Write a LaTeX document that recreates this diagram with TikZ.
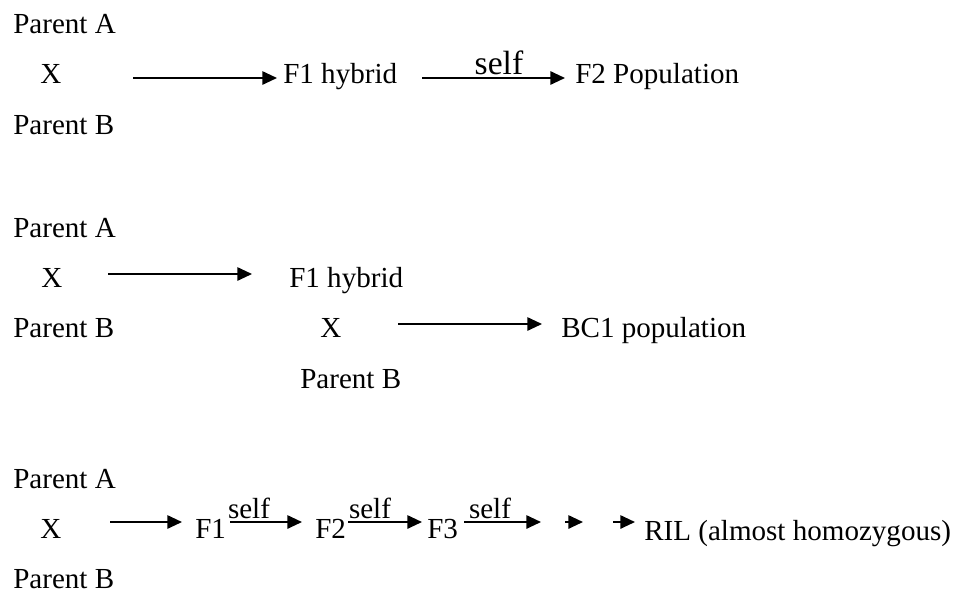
\documentclass[tikz,border=0pt]{standalone}
\usepackage{fontspec}
\setmainfont{Liberation Serif}
\usetikzlibrary{arrows.meta}
\begin{document}
\begin{tikzpicture}[x=0.75pt,y=-0.75pt,
  lbl/.style={anchor=base west,inner sep=0pt,font=\fontsize{21.8}{26}\selectfont},
  bigself/.style={anchor=base,inner sep=0pt,font=\fontsize{25.2}{30}\selectfont},
  smlself/.style={anchor=base,inner sep=0pt,font=\fontsize{21.8}{26}\selectfont},
  arr/.style={line width=1.4pt,-{Triangle[length=11pt,width=10pt]}}]
\useasboundingbox (0,0) rectangle (960,593);

% ---------- block 1: F2 ----------
\node[lbl] (pa1) at (13,33) {Parent A};
\node[lbl] (x1) at (40,83) {X};
\node[lbl] (f1a) at (283,83) {F1 hybrid};
\node[lbl] (f2pop) at (575,83) {F2 Population};
\node[lbl] (pb1) at (13,134) {Parent B};
\coordinate (a1s) at (133,78); \coordinate (a1e) at (277,78);
\coordinate (a2s) at (422,78); \coordinate (a2e) at (565,78);
\draw[arr] (a1s) -- (a1e);
\draw[arr] (a2s) -- (a2e);
\node[bigself] (s1) at (499,74) {self};

% ---------- block 2: BC1 ----------
\node[lbl] (pa2) at (13,237) {Parent A};
\node[lbl] (x2) at (41,287) {X};
\node[lbl] (f1b) at (289,287) {F1 hybrid};
\node[lbl] (pb2) at (13,337) {Parent B};
\node[lbl] (x3) at (320,337) {X};
\node[lbl] (bc1) at (561,337) {BC1 population};
\node[lbl] (pb3) at (300,388) {Parent B};
\coordinate (b1s) at (108,274); \coordinate (b1e) at (252,274);
\coordinate (b2s) at (398,324); \coordinate (b2e) at (542,324);
\draw[arr] (b1s) -- (b1e);
\draw[arr] (b2s) -- (b2e);

% ---------- block 3: RIL ----------
\node[lbl] (pa3) at (13,488) {Parent A};
\node[lbl] (x4) at (40,538) {X};
\node[lbl] (g1) at (195,538) {F1};
\node[lbl] (g2) at (315,538) {F2};
\node[lbl] (g3) at (427,538) {F3};
\node[lbl] (ril) at (644,540) {RIL (almost homozygous)};
\node[lbl] (pb4) at (13,588) {Parent B};
\coordinate (c1s) at (110,522); \coordinate (c1e) at (182,522);
\coordinate (c2s) at (230,522); \coordinate (c2e) at (302,522);
\coordinate (c3s) at (348,522); \coordinate (c3e) at (422,522);
\coordinate (c4s) at (464,522); \coordinate (c4e) at (541,522);
\coordinate (c5s) at (565,522); \coordinate (c5e) at (583,522);
\coordinate (c6s) at (613,522); \coordinate (c6e) at (635,522);
\draw[arr] (c1s) -- (c1e);
\draw[arr] (c2s) -- (c2e);
\draw[arr] (c3s) -- (c3e);
\draw[arr] (c4s) -- (c4e);
\draw[arr] (c5s) -- (c5e);
\draw[arr] (c6s) -- (c6e);
\node[smlself] (t1) at (249,518) {self};
\node[smlself] (t2) at (370,518) {self};
\node[smlself] (t3) at (490,518) {self};
\end{tikzpicture}
\end{document}
